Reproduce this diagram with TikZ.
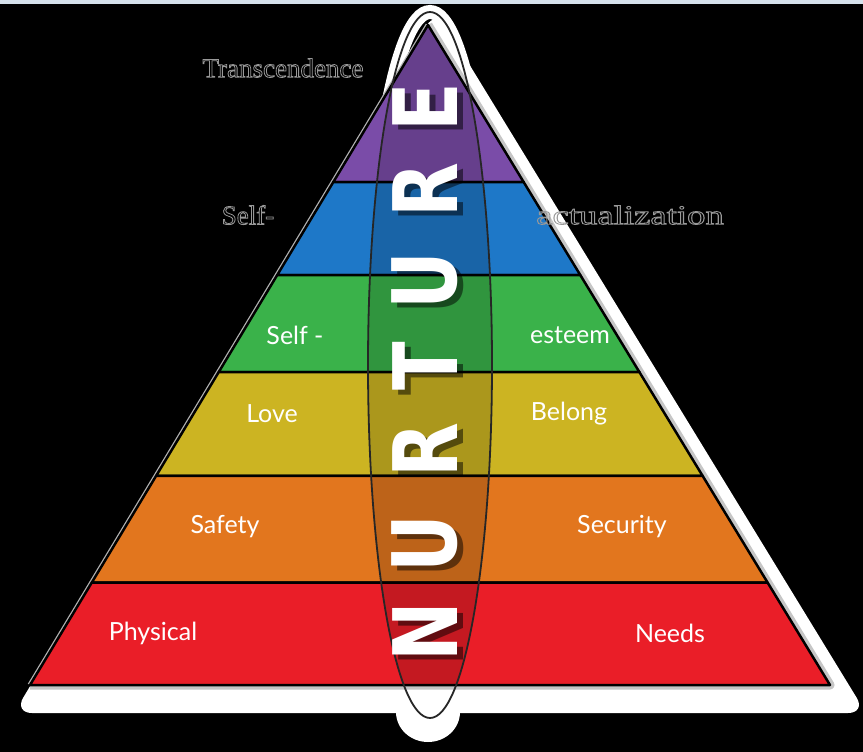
\documentclass[tikz,border=0pt]{standalone}
\usepackage{fontspec}
\setmainfont{Lato}
\newfontfamily\hollowfont{Liberation Serif}
\newfontfamily\nurtfont[FakeStretch=0.8]{DejaVu Sans}
\usetikzlibrary{calc}

\newcommand{\hollowtxt}[1]{\special{pdf:literal direct 1 Tr 0.8 w}#1\special{pdf:literal direct 0 Tr}}

\definecolor{cPurple}{RGB}{122,76,168}
\definecolor{cBlue}{RGB}{30,120,200}
\definecolor{cGreen}{RGB}{58,178,74}
\definecolor{cYellow}{RGB}{204,180,34}
\definecolor{cOrange}{RGB}{226,118,30}
\definecolor{cRed}{RGB}{234,30,40}
\definecolor{cStrip}{RGB}{214,226,236}

\tikzset{
  layerlbl/.style={text=white, inner sep=0pt, font=\fontsize{25}{25}\selectfont},
  hollowlbl/.style={text=gray!80, inner sep=0pt, font=\hollowfont\fontsize{27}{27}\selectfont},
  nurtlbl/.style={text=white, rotate=90, inner sep=0pt, font=\nurtfont\bfseries\fontsize{89}{89}\selectfont},
  nurtshadow/.style={nurtlbl, text=black, opacity=0.5},
}

\begin{document}
\begin{tikzpicture}[x=1pt,y=-1pt]
    % Background
    \useasboundingbox (0,0) rectangle (863,752);
    \fill[black] (0,0) rectangle (863,752);
    \fill[cStrip] (0,0) rectangle (863,4);

    % Coordinates
    \coordinate (A) at (428,25);
    \coordinate (BL) at (30,685);
    \coordinate (BR) at (830,685);
    \coordinate (E) at (430,365);

    % White base behind the pyramid
    \draw[white, line width=14] (E) ellipse (62 and 353);
    \fill[white] (428,712) ellipse (32 and 30);
    \fill[white, rounded corners=18] (436,10) -- (866,713) -- (14,713) -- cycle;
    \draw[gray!45, line width=9, line join=round] (A) -- (BR) -- (BL);
    \draw[gray!60, line width=5] (A) -- (BL);

    % Layers, apex to base
    \foreach \ta/\tb/\col in {0/0.238/cPurple, 0.238/0.379/cBlue, 0.379/0.526/cGreen,
                             0.526/0.683/cYellow, 0.683/0.845/cOrange, 0.845/1/cRed} {
        \filldraw[fill=\col, draw=black, line width=2.5, line join=round]
            ($(A)!\ta!(BL)$) -- ($(A)!\tb!(BL)$) -- ($(A)!\tb!(BR)$) -- ($(A)!\ta!(BR)$) -- cycle;
    }

    % Ellipse through the middle
    \begin{scope}
        \clip (A) -- (BL) -- (BR) -- cycle;
        \fill[black, opacity=0.16] (E) ellipse (62 and 353);
    \end{scope}
    \draw[black!85, line width=1.8] (E) ellipse (62 and 353);

    % NURTURE, read bottom to top
    \foreach \ch/\yy [count=\i] in {N/632, U/544, R/450, T/366, U/281, R/190, E/107} {
        \node[nurtshadow] (nts\i) at (431,\yy+5) {\ch};
        \node[nurtlbl] (nt\i) at (425,\yy) {\ch};
    }

    % Labels on the layers
    \node[layerlbl] (lblPhys) at (153,633) {Physical};
    \node[layerlbl] (lblNeeds) at (670,633) {Needs};
    \node[layerlbl] (lblSafe) at (225,527) {Safety};
    \node[layerlbl] (lblSecu) at (622,527) {Security};
    \node[layerlbl] (lblLove) at (272,414) {Love};
    \node[layerlbl] (lblBelong) at (569,414) {Belong};
    \node[layerlbl] (lblSelf) at (295,335) {Self -};
    \node[layerlbl] (lblEsteem) at (570,335) {esteem};

    % Hollow labels on the black
    \node[hollowlbl] (lblSelfA) at (248,215) {\hollowtxt{Self-}};
    \node[hollowlbl] (lblActual) at (630,215) {\scalebox{1.36}[1]{\hollowtxt{actualization}}};
    \node[hollowlbl] (lblTrans) at (283,68) {\hollowtxt{Transcendence}};
\end{tikzpicture}
\end{document}
